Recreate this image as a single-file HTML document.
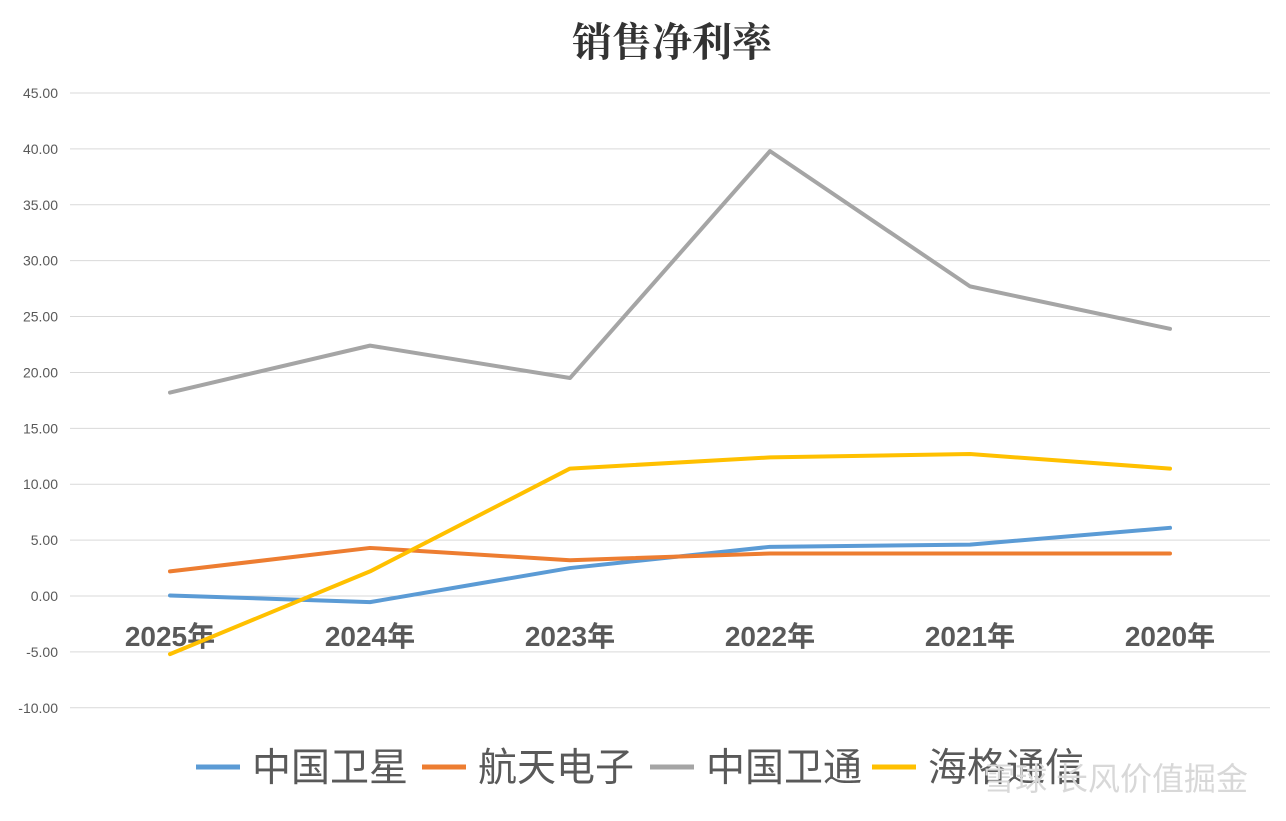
<!DOCTYPE html>
<html><head><meta charset="utf-8"><style>
body{margin:0;background:#fff;width:1286px;height:816px;overflow:hidden}
svg text{font-family:"Liberation Sans","Noto Sans CJK SC",sans-serif}
</style></head><body>
<svg id="c" width="1286" height="816">
<text x="672" y="56" text-anchor="middle" font-size="40" font-weight="bold" fill="#333" style="font-family:'Noto Serif CJK SC','Noto Sans CJK SC',serif">销售净利率</text>
<g id="grid"></g><g id="ylab"></g><g id="xlab"></g><g id="lines"></g>
<g fill="#595959" id="legend"></g>
<text x="1248" y="790" text-anchor="end" font-size="32" fill="#d8d8d8">雪球 长风价值掘金</text>
</svg>
<script>
const categories=["2025年","2024年","2023年","2022年","2021年","2020年"];
const yTicks=[-10,-5,0,5,10,15,20,25,30,35,40,45];
const seriesNames=["中国卫星","航天电子","中国卫通","海格通信"];
const colors=["#5b9bd5","#ed7d31","#a5a5a5","#ffc000"];
const s1=[0.05,-0.55,2.5,4.4,4.6,6.1];
const s2=[2.2,4.3,3.2,3.8,3.8,3.8];
const s3=[18.2,22.4,19.5,39.8,27.7,23.9];
const s4=[-5.2,2.2,11.4,12.4,12.7,11.4];
const series=[s1,s2,s3,s4];
const NS="http://www.w3.org/2000/svg";
const y=v=>596-v*(503/45);
const x=i=>170+i*200;
function mk(t,a,p){const e=document.createElementNS(NS,t);for(const k in a)e.setAttribute(k,a[k]);p.appendChild(e);return e;}
const g=document.getElementById('grid'),yl=document.getElementById('ylab'),xl=document.getElementById('xlab'),ln=document.getElementById('lines'),lg=document.getElementById('legend');
yTicks.forEach(v=>{
 const l=mk('line',{x1:70,x2:1270,y1:y(v),y2:y(v),stroke:'#d9d9d9','stroke-width':1},g);
 
 
 const t=mk('text',{x:58,y:y(v)+5,'text-anchor':'end','font-size':14,fill:'#595959'},yl);
 t.textContent=v.toFixed(2);
 
 
});
categories.forEach((c,i)=>{
 const t=mk('text',{x:x(i),y:646,'text-anchor':'middle','font-size':28,'font-weight':'bold',fill:'#595959'},xl);
 t.textContent=c;
 
 
});
series.forEach((s,k)=>{
 const p=mk('polyline',{points:s.map((v,i)=>x(i)+','+y(v)).join(' '),fill:'none',stroke:colors[k],'stroke-width':4,'stroke-linejoin':'round','stroke-linecap':'round'},ln);
 
 
});
const lx=[196,422,650,872];
seriesNames.forEach((n,k)=>{
 const l=mk('line',{x1:lx[k],x2:lx[k]+44,y1:767,y2:767,stroke:colors[k],'stroke-width':5},lg);
 
 
 const t=mk('text',{x:lx[k]+56,y:781,'font-size':39,fill:'#595959'},lg);
 t.textContent=n;
 
 
});
</script>
</body></html>
